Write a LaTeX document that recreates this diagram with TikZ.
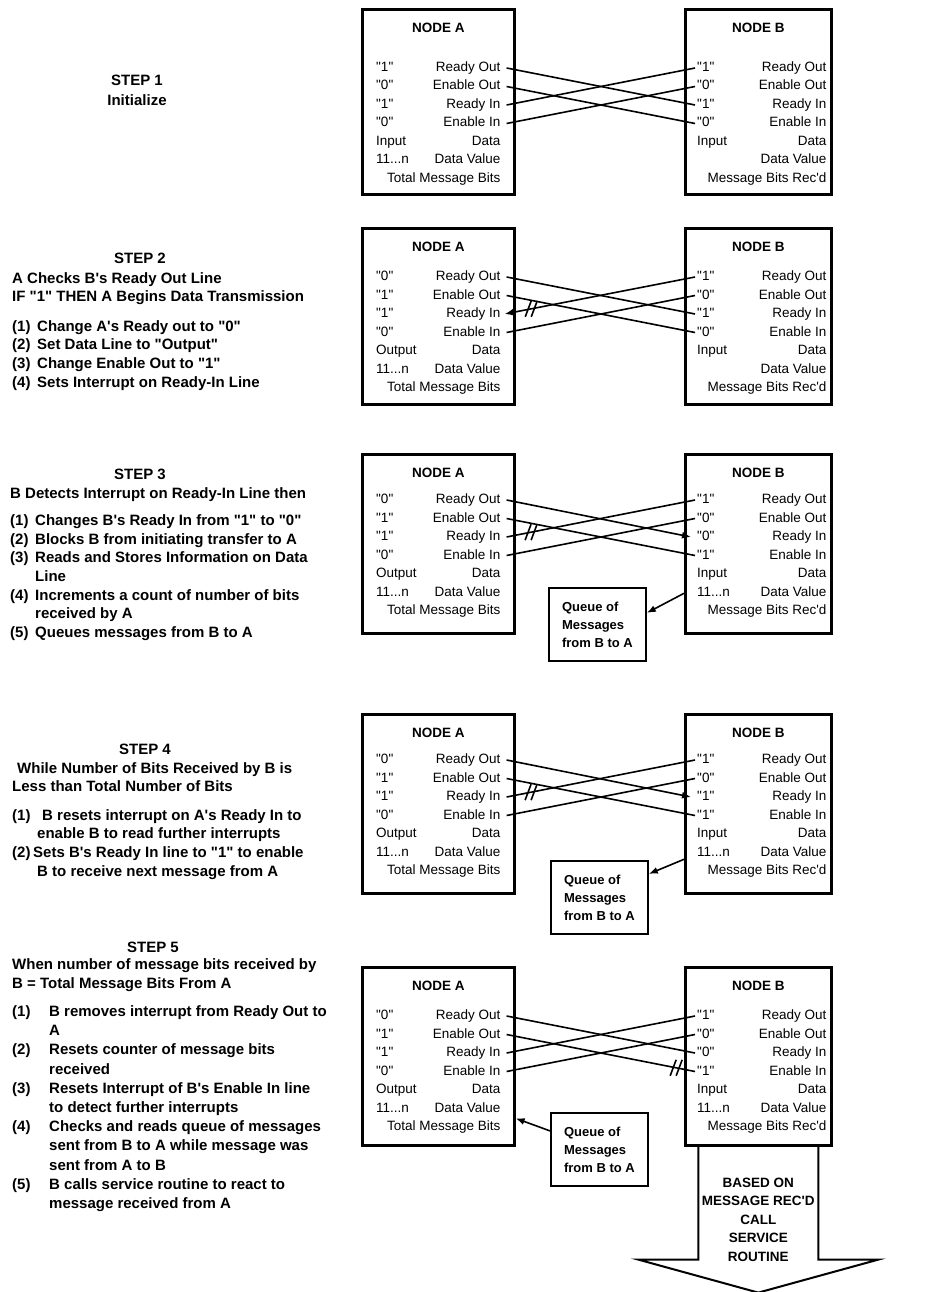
\documentclass[tikz,border=0pt]{standalone}
\usepackage{fontspec}
\setmainfont{Liberation Sans}[Ligatures=TeXOff]
\usetikzlibrary{calc,arrows.meta}

\newcommand{\bits}{11...n}
% one step: box A and box B with their signal rows
% #1 step, #2 top, #3 height, #4 first row, #5 values in A, #6 values in B
\newcommand{\nodepair}[6]{%
  \node[unit, minimum width=152pt, minimum height=#3pt] (a#1) at (361,#2) {};
  \node[unit, minimum width=146pt, minimum height=#3pt] (b#1) at (684,#2) {};
  \node[title] (a#1t) at ($(a#1.north)+(0,20)$) {NODE A};
  \node[title] (b#1t) at ($(b#1.north)+(0,20)$) {NODE B};
  \foreach \v [count=\i] in {#5}
    \node[sig, anchor=west] (a#1v\i) at ($(a#1.north west)+(15,{#4+18.5*(\i-1)})$) {\v};
  \foreach \l [count=\i] in {Ready Out,Enable Out,Ready In,Enable In,Data,Data Value,Total Message Bits}
    \node[sig, anchor=east] (a#1l\i) at ($(a#1.north east)+(-15,{#4+18.5*(\i-1)})$) {\l};
  \foreach \v [count=\i] in {#6}
    \node[sig, anchor=west] (b#1v\i) at ($(b#1.north west)+(13,{#4+18.5*(\i-1)})$) {\v};
  \foreach \l [count=\i] in {Ready Out,Enable Out,Ready In,Enable In,Data,Data Value,Message Bits Rec'd}
    \node[sig, anchor=east] (b#1l\i) at ($(b#1.north east)+(-6,{#4+18.5*(\i-1)})$) {\l};
}

\begin{document}
\begin{tikzpicture}[x=1pt, y=-1pt,
    unit/.style={draw, line width=2.6pt, anchor=north west, inner sep=0pt},
    title/.style={font=\bfseries\fontsize{13.5}{16}\selectfont, inner sep=0pt},
    sig/.style={font=\fontsize{13.5}{16}\selectfont, inner sep=0pt, text height=9.5pt, text depth=2.5pt},
    notes/.style={anchor=north west, align=left, inner sep=0pt, font=\bfseries\fontsize{15}{18.6}\selectfont},
    heading/.style={font=\bfseries\fontsize{15}{18.6}\selectfont, inner sep=0pt},
    wire/.style={line width=1.6pt},
    arr/.style={-{Latex[length=9pt,width=7pt]}},
    queue/.style={draw, line width=1.8pt, anchor=north west, minimum width=97pt, minimum height=73pt,
      align=left, font=\bfseries\fontsize{13}{18}\selectfont},
    brk/.pic={\draw[line width=1.6pt] (-6,8) -- (0,-8) (0,8) -- (6,-8);}]

  \useasboundingbox (0,0) rectangle (944,1292);

  % ---------------- step 1
  \node[heading] (h1) at (137,80) {STEP 1};
  \node[heading] (i1) at (137,100) {Initialize};
  \nodepair{1}{8}{185}{60}{"1","0","1","0",Input,\bits,{}}{"1","0","1","0",Input,{},{}}
  \draw[wire] ([xshift=6pt]a1l1.east) -- ([xshift=-2pt]b1v3.west);
  \draw[wire] ([xshift=6pt]a1l2.east) -- ([xshift=-2pt]b1v4.west);
  \draw[wire] ([xshift=-2pt]b1v1.west) -- ([xshift=6pt]a1l3.east);
  \draw[wire] ([xshift=-2pt]b1v2.west) -- ([xshift=6pt]a1l4.east);

  % ---------------- step 2
  \node[heading] (h2) at (140,258) {STEP 2};
  \node[notes] (n2) at (12,272) {A Checks B's Ready Out Line\\
    IF "1" THEN A Begins Data Transmission\\[11pt]
    \makebox[25pt][l]{(1)}Change A's Ready out to "0"\\
    \makebox[25pt][l]{(2)}Set Data Line to "Output"\\
    \makebox[25pt][l]{(3)}Change Enable Out to "1"\\
    \makebox[25pt][l]{(4)}Sets Interrupt on Ready-In Line};
  \nodepair{2}{227}{176}{50}{"0","1","1","0",Output,\bits,{}}{"1","0","1","0",Input,{},{}}
  \draw[wire] ([xshift=6pt]a2l1.east) -- ([xshift=-2pt]b2v3.west);
  \draw[wire] ([xshift=6pt]a2l2.east) -- ([xshift=-2pt]b2v4.west);
  \draw[wire,arr] ([xshift=-2pt]b2v1.west) -- ([xshift=4pt]a2l3.east) coordinate[pos=0.86] (k2);
  \draw[wire] ([xshift=-2pt]b2v2.west) -- ([xshift=6pt]a2l4.east);
  \pic at (k2) {brk};

  % ---------------- step 3
  \node[heading] (h3) at (140,474) {STEP 3};
  \node[notes] (n3) at (10,487) {B Detects Interrupt on Ready-In Line then\\[9pt]
    \makebox[25pt][l]{(1)}Changes B's Ready In from "1" to "0"\\
    \makebox[25pt][l]{(2)}Blocks B from initiating transfer to A\\
    \makebox[25pt][l]{(3)}Reads and Stores Information on Data\\
    \hspace*{25pt}Line\\
    \makebox[25pt][l]{(4)}Increments a count of number of bits\\
    \hspace*{25pt}received by A\\
    \makebox[25pt][l]{(5)}Queues messages from B to A};
  \nodepair{3}{453}{179}{47}{"0","1","1","0",Output,\bits,{}}{"1","0","0","1",Input,\bits,{}}
  \draw[wire,arr] ([xshift=6pt]a3l1.east) -- ([xshift=-6pt]b3v3.west);
  \draw[wire] ([xshift=6pt]a3l2.east) -- ([xshift=-2pt]b3v4.west);
  \draw[wire] ([xshift=-2pt]b3v1.west) -- ([xshift=6pt]a3l3.east) coordinate[pos=0.87] (k3);
  \draw[wire] ([xshift=-2pt]b3v2.west) -- ([xshift=6pt]a3l4.east);
  \pic at (k3) {brk};
  \node[queue] (q3) at (548,587) {Queue of\\Messages\\from B to A};
  \draw[wire,arr] ([yshift=-49.5pt]b3.west) -- ([yshift=11.5pt]q3.east);

  % ---------------- step 4
  \node[heading] (h4) at (145,749) {STEP 4};
  \node[notes] (n4) at (12,762) {\hspace*{5pt}While Number of Bits Received by B is\\
    Less than Total Number of Bits\\[10pt]
    \makebox[30pt][l]{(1)}B resets interrupt on A's Ready In to\\
    \hspace*{25pt}enable B to read further interrupts\\
    \makebox[21pt][l]{(2)}Sets B's Ready In line to "1" to enable\\
    \hspace*{25pt}B to receive next message from A};
  \nodepair{4}{713}{179}{47}{"0","1","1","0",Output,\bits,{}}{"1","0","1","1",Input,\bits,{}}
  \draw[wire,arr] ([xshift=6pt]a4l1.east) -- ([xshift=-6pt]b4v3.west);
  \draw[wire] ([xshift=6pt]a4l2.east) -- ([xshift=-2pt]b4v4.west);
  \draw[wire] ([xshift=-2pt]b4v1.west) -- ([xshift=6pt]a4l3.east) coordinate[pos=0.87] (k4);
  \draw[wire] ([xshift=-2pt]b4v2.west) -- ([xshift=6pt]a4l4.east);
  \pic at (k4) {brk};
  \node[queue] (q4) at (550,860) {Queue of\\Messages\\from B to A};
  \draw[wire,arr] ([yshift=-55.5pt]b4.west) -- ([yshift=23.5pt]q4.east);

  % ---------------- step 5
  \node[heading] (h5) at (153,947) {STEP 5};
  \node[notes, font=\bfseries\fontsize{15}{19.2}\selectfont] (n5) at (12,958) {When number of message bits received by\\
    B = Total Message Bits From A\\[9pt]
    \makebox[37pt][l]{(1)}B removes interrupt from Ready Out to\\
    \hspace*{37pt}A\\
    \makebox[37pt][l]{(2)}Resets counter of message bits\\
    \hspace*{37pt}received\\
    \makebox[37pt][l]{(3)}Resets Interrupt of B's Enable In line\\
    \hspace*{37pt}to detect further interrupts\\
    \makebox[37pt][l]{(4)}Checks and reads queue of messages\\
    \hspace*{37pt}sent from B to A while message was\\
    \hspace*{37pt}sent from A to B\\
    \makebox[37pt][l]{(5)}B calls service routine to react to\\
    \hspace*{37pt}message received from A};
  \nodepair{5}{966}{178}{50}{"0","1","1","0",Output,\bits,{}}{"1","0","0","1",Input,\bits,{}}
  \draw[wire] ([xshift=6pt]a5l1.east) -- ([xshift=-2pt]b5v3.west);
  \draw[wire] ([xshift=6pt]a5l2.east) -- ([xshift=-2pt]b5v4.west) coordinate[pos=0.9] (k5);
  \draw[wire] ([xshift=-2pt]b5v1.west) -- ([xshift=6pt]a5l3.east);
  \draw[wire] ([xshift=-2pt]b5v2.west) -- ([xshift=6pt]a5l4.east);
  \pic at (k5) {brk};
  \node[queue] (q5) at (550,1112) {Queue of\\Messages\\from B to A};
  \draw[wire,arr] ([yshift=18.5pt]q5.west) -- ([yshift=-62pt]a5.east);

  % service routine call out of B
  \draw[line width=2pt] ([xshift=-60pt]b5.south) -- ++(0,113) -- ++(-60,0) -- ++(120,33)
    -- ++(120,-33) -- ++(-60,0) -- ([xshift=60pt]b5.south);
  \node[align=center, inner sep=0pt, font=\bfseries\fontsize{13.5}{18.5}\selectfont] (call)
    at ($(b5.south)+(0,73)$) {BASED ON\\MESSAGE REC'D\\CALL\\SERVICE\\ROUTINE};
\end{tikzpicture}
\end{document}
